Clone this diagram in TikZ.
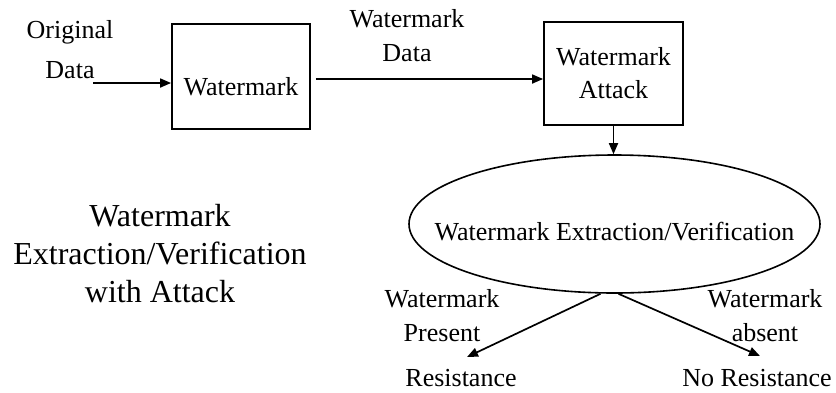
\documentclass[tikz,border=0pt]{standalone}
\usepackage{fontspec}
\setmainfont{Liberation Serif}
\usetikzlibrary{arrows.meta,shapes.geometric}
\begin{document}
\begin{tikzpicture}[x=1pt,y=-1pt,
  txt/.style={inner sep=0pt, align=center, font=\fontsize{26}{34}\selectfont},
  title/.style={inner sep=0pt, align=center, font=\fontsize{32}{38}\selectfont},
  blk/.style={draw, line width=1.8pt, inner sep=0pt, align=center, font=\fontsize{26}{33}\selectfont},
  oval/.style={ellipse, draw, line width=1.6pt, inner sep=0pt},
  arr/.style={line width=1.7pt, -{Triangle[length=11pt,width=9pt]}}]
\useasboundingbox (0,0) rectangle (836,392);

% processing blocks
\node[blk, minimum width=138pt, minimum height=105pt, text height=37pt, text depth=0pt] (wm) at (241,76.5) {Watermark};
\node[blk, minimum width=139pt, minimum height=103pt] (att) at (613.5,73.5) {Watermark\\Attack};
\node[oval, minimum width=411pt, minimum height=138pt] (ext) at (614.5,224) {};
\node[txt, anchor=base] (extlbl) at (614.5,240) {Watermark Extraction/Verification};

% input and edge labels
\node[txt] (orig) at (70,50) {Original\\[6pt]Data};
\node[txt] (wd) at (407,36) {Watermark\\Data};
\node[txt] (wp) at (442,316) {Watermark\\Present};
\node[txt] (wa) at (765,316) {Watermark\\absent};

% outcomes
\node[txt, anchor=base] (res) at (461,386) {Resistance};
\node[txt, anchor=base] (nores) at (757,386) {No Resistance};

% caption
\node[title] (ttl) at (160,254) {Watermark\\Extraction/Verification\\with Attack};

% connectors
\coordinate (origend) at (93,83);
\coordinate (wdline) at (315,79);
\coordinate (resTip) at (467,357);
\coordinate (noTip) at (760,356);

\draw[arr] (origend) -- (origend -| wm.west);
\draw[arr, shorten <=5pt] (wm.east |- wdline) -- (att.west |- wdline);
\draw[arr] (att.south) -- (att.south |- ext.north);
\draw[arr] ([xshift=-14pt]ext.south) -- (resTip);
\draw[arr] ([xshift=4pt]ext.south) -- (noTip);
\end{tikzpicture}
\end{document}
